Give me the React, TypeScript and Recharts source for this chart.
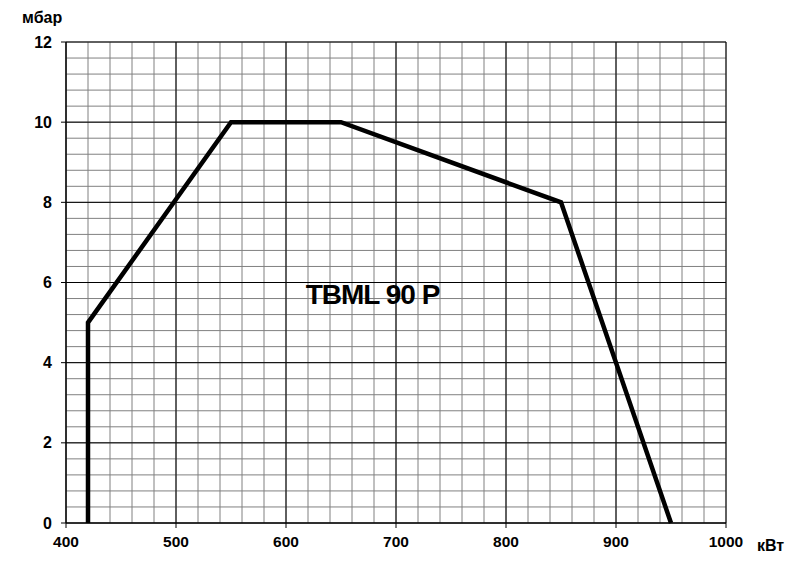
import React from 'react';
import { LineChart, Line, XAxis, YAxis, CartesianGrid, ReferenceLine } from 'recharts';

// burner working field: (kW, mbar)
const powerKw = [420, 420, 550, 650, 850, 950];
const pressureMbar = [0, 5, 10, 10, 8, 0];

const xMajor = [400, 500, 600, 700, 800, 900, 1000];
const xMinor = [
  400, 420, 440, 460, 480, 500, 520, 540, 560, 580, 600, 620, 640, 660, 680, 700,
  720, 740, 760, 780, 800, 820, 840, 860, 880, 900, 920, 940, 960, 980, 1000,
];
const yMajor = [0, 2, 4, 6, 8, 10, 12];
const yMinor = [
  0, 0.4, 0.8, 1.2, 1.6, 2, 2.4, 2.8, 3.2, 3.6, 4, 4.4, 4.8, 5.2, 5.6, 6, 6.4, 6.8,
  7.2, 7.6, 8, 8.4, 8.8, 9.2, 9.6, 10, 10.4, 10.8, 11.2, 11.6, 12,
];

const data = powerKw.map((p, i) => ({ p, v: pressureMbar[i] }));

const font = 'Arial, "Liberation Sans", sans-serif';

const XTick = ({ x, y, payload }: any) => {
  if (!xMajor.includes(payload.value)) return null;
  return (
    <g>
      <line x1={x} x2={x} y1={y} y2={y + 5} stroke="#000" />
      <text x={x} y={y + 23.5} textAnchor="middle" fontFamily={font} fontWeight="bold" fontSize={15.5} fill="#000">
        {payload.value}
      </text>
    </g>
  );
};

const YTick = ({ x, y, payload }: any) => {
  if (!yMajor.includes(payload.value)) return null;
  return (
    <g>
      <line x1={x - 5} x2={x} y1={y} y2={y} stroke="#000" />
      <text x={x - 14} y={y + 5.5} textAnchor="end" fontFamily={font} fontWeight="bold" fontSize={16} fill="#000">
        {payload.value}
      </text>
    </g>
  );
};

export default function App() {
  return (
    <div style={{ position: 'absolute', left: 0, top: 0, width: 794, height: 567, background: '#fff' }}>
      <LineChart width={794} height={567} data={data} margin={{ top: 42, right: 68, left: 0, bottom: 14 }}>
        <CartesianGrid stroke="#808080" strokeWidth={1} />
        <XAxis
          dataKey="p"
          type="number"
          domain={[400, 1000]}
          ticks={xMinor}
          interval={0}
          tick={<XTick />}
          tickLine={false}
          tickSize={0}
          tickMargin={0}
          height={30}
          axisLine={{ stroke: '#000' }}
        />
        <YAxis
          type="number"
          domain={[0, 12]}
          ticks={yMinor}
          interval={0}
          tick={<YTick />}
          tickLine={false}
          tickSize={0}
          tickMargin={0}
          width={66}
          axisLine={{ stroke: '#000' }}
        />
        {xMajor.map((v) => (
          <ReferenceLine key={'x' + v} x={v} stroke="#000" strokeWidth={1} />
        ))}
        {yMajor.map((v) => (
          <ReferenceLine key={'y' + v} y={v} stroke="#000" strokeWidth={1} />
        ))}
        <Line
          type="linear"
          dataKey="v"
          stroke="#000"
          strokeWidth={4.5}
          strokeLinejoin="miter"
          dot={false}
          activeDot={false}
          isAnimationActive={false}
        />
      </LineChart>
      <svg width={794} height={567} style={{ position: 'absolute', left: 0, top: 0, pointerEvents: 'none' }}>
        <text x={22} y={23} fontFamily={font} fontWeight="bold" fontSize={16} fill="#000">мбар</text>
        <text x={757} y={551} fontFamily={font} fontWeight="bold" fontSize={16} fill="#000">кВт</text>
        <text
          x={372.5}
          y={304}
          textAnchor="middle"
          fontFamily={font}
          fontWeight="bold"
          fontSize={28}
          letterSpacing={-1}
          fill="#000"
        >
          TBML 90 P
        </text>
      </svg>
    </div>
  );
}
